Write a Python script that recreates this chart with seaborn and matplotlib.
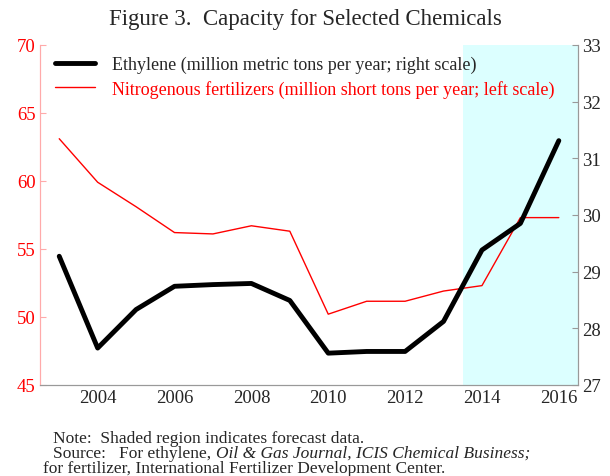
import numpy as np
import pandas as pd
import matplotlib
matplotlib.use("Agg")
import matplotlib.pyplot as plt
import seaborn as sns

sns.set_style("white")
plt.rcParams["font.family"] = ["Liberation Serif", "DejaVu Serif"]

years = [2003, 2004, 2005, 2006, 2007, 2008, 2009, 2010, 2011, 2012, 2013, 2014, 2015, 2016]
ethylene = [29.27, 27.65, 28.33, 28.74, 28.77, 28.79, 28.49, 27.56, 27.59, 27.59, 28.12, 29.38, 29.85, 31.31]
fertilizer = [63.1, 59.9, 58.1, 56.2, 56.1, 56.7, 56.3, 50.2, 51.15, 51.15, 51.9, 52.3, 57.3, 57.3]
forecast_start = 2014
label_years = [2004, 2006, 2008, 2010, 2012, 2014, 2016]

df = pd.DataFrame({"year": years, "ethylene": ethylene, "fertilizer": fertilizer})
# points sit in the middle of each year
df["x"] = df["year"] + 0.5

RED = "#ff0000"
SPINE_GRAY = "#999999"

fig = plt.figure(figsize=(6.1, 4.77), dpi=100)
ax = fig.add_axes([0.0656, 0.191, 0.8820, 0.7128])
ax2 = ax.twinx()

ax.axvspan(forecast_start, 2017, color="#dcffff", zorder=0, lw=0)

sns.lineplot(data=df, x="x", y="fertilizer", ax=ax, color=RED, linewidth=1.0, zorder=3)
sns.lineplot(data=df, x="x", y="ethylene", ax=ax2, color="black", linewidth=3.5, zorder=4)

ax.set_xlim(2003, 2017)
ax.set_ylim(45, 70)
ax2.set_ylim(27, 33)
ax.set_yticks([45, 50, 55, 60, 65, 70])
ax2.set_yticks([27, 28, 29, 30, 31, 32, 33])

ax.set_xticks(np.arange(2004, 2017))
ax.set_xticklabels([])
ax.set_xticks([y + 0.5 for y in label_years], minor=True)
ax.set_xticklabels([str(y) for y in label_years], minor=True)
ax.tick_params(axis="x", which="major", direction="in", length=4, color=SPINE_GRAY)
ax.tick_params(axis="x", which="minor", length=0, labelsize=13.5, pad=3)

ax.tick_params(axis="y", direction="in", length=4, color="#ffaaaa", labelcolor=RED,
               labelsize=13.5, left=True, pad=3)
ax2.tick_params(axis="y", direction="in", length=4, color=SPINE_GRAY, labelsize=13.5,
                right=True, pad=3)

for a in (ax, ax2):
    a.set_xlabel("")
    a.set_ylabel("")
    a.spines["top"].set_visible(False)
    a.spines["bottom"].set_color(SPINE_GRAY)
    a.spines["left"].set_color("#ffaaaa")
    a.spines["right"].set_color(SPINE_GRAY)
    a.grid(False)
ax.patch.set_visible(False)
ax2.patch.set_visible(False)
ax.set_zorder(2)
ax2.set_zorder(3)

# unframed legend with coloured labels
h1, = ax.plot([], [], color="black", linewidth=3.5)
h2, = ax.plot([], [], color=RED, linewidth=1.0)
leg = ax2.legend([h1, h2],
                 ["Ethylene (million metric tons per year; right scale)",
                  "Nitrogenous fertilizers (million short tons per year; left scale)"],
                 loc="upper left", bbox_to_anchor=(0.028, 0.968), frameon=False,
                 borderaxespad=0, borderpad=0,
                 fontsize=13, handlelength=2.2, handletextpad=0.95, labelspacing=0.38)
leg.get_texts()[1].set_color(RED)

fig.text(0.5, 0.960, "Figure 3.  Capacity for Selected Chemicals", ha="center", va="center",
         fontsize=16.5)

fig.text(0.087, 0.080, "Note:  Shaded region indicates forecast data.", fontsize=12.5, va="center")
src = fig.text(0.087, 0.048, "Source:   For ethylene, ", fontsize=12.5, va="center")
fig.canvas.draw()
bb = src.get_window_extent()
fig.text(bb.x1 / fig.bbox.width, 0.048, "Oil & Gas Journal, ICIS Chemical Business;",
         fontsize=12.5, va="center", style="italic")
fig.text(0.070, 0.016, "for fertilizer, International Fertilizer Development Center.",
         fontsize=12.5, va="center")

fig.savefig("out.png", dpi=100)
